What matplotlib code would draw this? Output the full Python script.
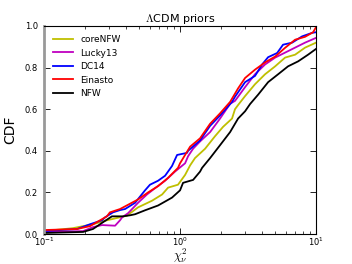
import matplotlib
matplotlib.use("Agg")
import matplotlib.pyplot as plt
from matplotlib.ticker import LogLocator

plt.rcParams['mathtext.fontset'] = 'cm'

# CDF of reduced chi^2
x_core = [0.1, 0.163, 0.229, 0.29, 0.407, 0.491, 0.622, 0.738, 0.817, 0.966, 1.089, 1.186,
          1.288, 1.528, 1.807, 2.07, 2.41, 2.535, 2.67, 3.006, 3.556, 4.217, 5.0, 5.916,
          7.01, 8.30, 10.0]
y_core = [0.014, 0.028, 0.047, 0.066, 0.088, 0.128, 0.16, 0.19, 0.223, 0.237, 0.284, 0.33,
          0.365, 0.41, 0.47, 0.515, 0.555, 0.60, 0.62, 0.663, 0.72, 0.768, 0.806, 0.848,
          0.862, 0.896, 0.92]

x_lucky = [0.1, 0.194, 0.229, 0.267, 0.333, 0.362, 0.375, 0.415, 0.491, 0.571, 0.654, 0.776,
           0.918, 1.089, 1.146, 1.247, 1.403, 1.663, 1.968, 2.333, 2.535, 3.006, 3.556, 4.217,
           5.0, 5.916, 7.01, 8.30, 10.0]
y_lucky = [0.01, 0.014, 0.033, 0.043, 0.04, 0.066, 0.08, 0.10, 0.15, 0.19, 0.22, 0.256,
           0.30, 0.34, 0.374, 0.41, 0.445, 0.49, 0.555, 0.626, 0.64, 0.706, 0.768, 0.815,
           0.848, 0.872, 0.896, 0.92, 0.943]

x_dc14 = [0.1, 0.131, 0.175, 0.218, 0.267, 0.281, 0.321, 0.362, 0.394, 0.467, 0.553, 0.601,
          0.689, 0.776, 0.873, 0.951, 1.125, 1.146, 1.403, 1.663, 1.968, 2.41, 2.535, 3.006,
          3.556, 4.01, 4.44, 5.17, 5.715, 6.67, 7.89, 9.35, 10.0]
y_dc14 = [0.014, 0.019, 0.024, 0.047, 0.066, 0.08, 0.104, 0.115, 0.12, 0.15, 0.21, 0.237,
          0.256, 0.28, 0.327, 0.38, 0.39, 0.40, 0.45, 0.52, 0.57, 0.635, 0.66, 0.73,
          0.76, 0.815, 0.85, 0.87, 0.91, 0.92, 0.95, 0.967, 0.97]

x_ein = [0.1, 0.175, 0.218, 0.29, 0.305, 0.362, 0.491, 0.582, 0.689, 0.817, 0.966, 1.0,
         1.186, 1.403, 1.663, 1.968, 2.333, 2.67, 3.006, 3.556, 4.217, 5.0, 5.916, 7.01,
         8.30, 9.51, 10.0]
y_ein = [0.019, 0.024, 0.038, 0.085, 0.104, 0.12, 0.166, 0.20, 0.23, 0.27, 0.318, 0.34,
         0.42, 0.46, 0.53, 0.58, 0.635, 0.70, 0.75, 0.79, 0.825, 0.853, 0.895, 0.934,
         0.948, 0.97, 0.995]

x_nfw = [0.1, 0.194, 0.229, 0.272, 0.316, 0.381, 0.429, 0.467, 0.553, 0.689, 0.873, 1.0,
         1.052, 1.186, 1.247, 1.403, 1.452, 1.663, 1.968, 2.333, 2.67, 3.006, 3.273, 3.75,
         4.44, 5.26, 6.22, 7.38, 8.73, 10.0]
y_nfw = [0.005, 0.01, 0.024, 0.057, 0.085, 0.085, 0.09, 0.095, 0.114, 0.137, 0.175, 0.21,
         0.246, 0.256, 0.26, 0.30, 0.318, 0.365, 0.427, 0.49, 0.555, 0.59, 0.625, 0.67,
         0.73, 0.768, 0.806, 0.83, 0.862, 0.89]

series = [
    ("coreNFW", x_core, y_core, (0.75, 0.75, 0.0)),
    ("Lucky13", x_lucky, y_lucky, (0.75, 0.0, 0.75)),
    ("DC14", x_dc14, y_dc14, (0.0, 0.0, 1.0)),
    ("Einasto", x_ein, y_ein, (1.0, 0.0, 0.0)),
    ("NFW", x_nfw, y_nfw, (0.0, 0.0, 0.0)),
]

fig = plt.figure(figsize=(3.52, 2.64), dpi=100)
ax = fig.add_axes([0.125, 0.1136, 0.773, 0.788])

for name, xs, ys, c in series:
    ax.plot(xs, ys, color=c, lw=1.3, label=name)

ax.set_xscale("log")
ax.set_xlim(0.1, 10)
ax.set_ylim(0, 1.0)
ax.set_yticks([0.0, 0.2, 0.4, 0.6, 0.8, 1.0])
ax.xaxis.set_minor_locator(LogLocator(base=10, subs=range(2, 10)))

ax.tick_params(which="both", direction="in", top=True, right=True, labelsize=6)
ax.tick_params(axis="x", pad=1.5)
ax.tick_params(axis="y", pad=4.5)
ax.tick_params(which="major", length=4, width=0.6)
ax.tick_params(which="minor", length=2, width=0.5)
for s in ax.spines.values():
    s.set_linewidth(0.8)
ax.spines["left"].set_color("#999999")
ax.spines["left"].set_linewidth(2)

ax.set_title(r"$\Lambda$CDM priors", fontsize=8, pad=3)
ax.set_xlabel(r"$\chi^2_\nu$", fontsize=9)
ax.xaxis.set_label_coords(0.5, -0.062)
ax.set_ylabel("CDF", fontsize=10, labelpad=5)

ax.legend(loc="upper left", frameon=False, fontsize=6.5, handlelength=2.2,
          labelspacing=0.5, borderaxespad=0.6)

fig.savefig("out.png", dpi=100)
plt.close(fig)
